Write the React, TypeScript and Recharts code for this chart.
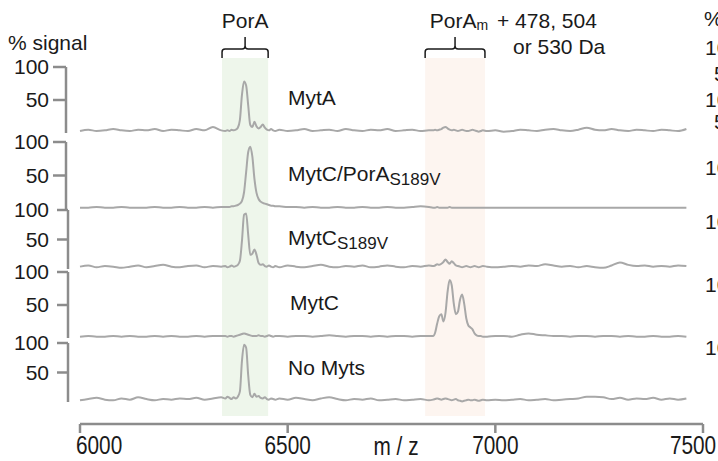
import { LineChart, Line, XAxis, YAxis, ReferenceArea } from 'recharts';

const W = 718;
const H = 461;
const FONT = '"Liberation Sans", Arial, Helvetica, sans-serif';
const INK = '#1a1a1a';
const AXIS_GRAY = '#8c8c8c';
const TRACE_GRAY = '#a8a8a8';

// m/z sampling shared by the five spectra (finer around the PorA / PorAm windows)
const mzGrid = [
  6000, 6020, 6040, 6060, 6080, 6100, 6120, 6140, 6160, 6180, 6200, 6220, 6240, 6260, 6280, 6300, 6320, 6340,
  6350, 6355, 6360, 6365, 6370, 6375, 6380, 6385, 6390, 6395, 6400, 6405, 6410, 6415, 6420, 6425, 6430, 6435, 6440, 6445, 6450, 6455, 6460, 6465, 6470,
  6480, 6500, 6520, 6540, 6560, 6580, 6600, 6620, 6640, 6660, 6680, 6700, 6720, 6740, 6760, 6780, 6800, 6820, 6840,
  6850, 6855, 6860, 6865, 6870, 6875, 6880, 6885, 6890, 6895, 6900, 6905, 6910, 6915, 6920, 6925, 6930, 6935, 6940, 6945, 6950, 6955, 6960, 6965, 6970,
  6980, 7000, 7020, 7040, 7060, 7080, 7100, 7120, 7140, 7160, 7180, 7200, 7220, 7240, 7260, 7280, 7300, 7320, 7340, 7360, 7380, 7400, 7420, 7440, 7460,
];

// % signal, one value per mzGrid point
const mytASignal = [
  3, 5, 3, 4, 6, 4, 3, 5, 4, 6, 3, 5, 4, 3, 6, 4, 9, 4,
  3, 4, 3, 5, 4, 5, 8, 20, 58, 78, 72, 42, 12, 9, 17, 10, 7, 9, 13, 8, 5, 4, 6, 4, 3,
  5, 3, 4, 6, 3, 4, 5, 3, 6, 4, 3, 5, 4, 6, 3, 4, 5, 3, 4,
  4, 5, 4, 5, 6, 8, 9, 7, 5, 4, 5, 4, 3, 4, 5, 4, 3, 3, 4, 5, 4, 3, 2, 3, 4,
  3, 4, 2, 3, 5, 4, 3, 5, 6, 4, 3, 5, 8, 5, 4, 6, 4, 3, 5, 4, 3, 5, 4, 3, 6,
];

const mytCPorASignal = [
  2, 2, 3, 2, 2, 3, 2, 2, 2, 3, 2, 2, 3, 2, 2, 3, 2, 3,
  3, 3, 3, 4, 4, 5, 6, 8, 12, 25, 55, 85, 93, 78, 45, 24, 15, 11, 9, 8, 7, 6, 5, 5, 4,
  4, 3, 3, 2, 3, 2, 2, 3, 2, 2, 3, 2, 2, 3, 2, 2, 3, 4, 3,
  2, 2, 3, 2, 2, 2, 2, 2, 3, 2, 2, 2, 2, 2, 2, 2, 2, 2, 2, 2, 2, 2, 2, 2, 2,
  2, 2, 2, 2, 2, 2, 2, 2, 2, 2, 2, 2, 2, 2, 2, 2, 2, 2, 2, 2, 2, 2, 2, 2, 2,
];

const mytCS189VSignal = [
  4, 6, 3, 5, 4, 2, 4, 6, 3, 5, 7, 4, 3, 5, 6, 3, 5, 4,
  5, 3, 4, 6, 4, 5, 7, 14, 48, 92, 94, 58, 24, 26, 33, 24, 10, 7, 8, 5, 4, 6, 4, 3, 5,
  3, 6, 4, 3, 5, 7, 4, 3, 5, 4, 6, 3, 4, 6, 4, 3, 5, 4, 6,
  5, 6, 8, 7, 9, 12, 16, 12, 9, 13, 10, 6, 5, 4, 3, 4, 5, 4, 3, 4, 5, 4, 3, 4, 5,
  4, 3, 4, 5, 4, 6, 5, 8, 6, 4, 5, 3, 5, 3, 2, 6, 11, 7, 5, 6, 4, 5, 4, 6, 5,
];

const mytCSignal = [
  2, 3, 2, 2, 3, 2, 3, 2, 2, 3, 2, 3, 2, 2, 3, 2, 3, 3,
  3, 2, 3, 3, 2, 3, 4, 5, 6, 7, 6, 5, 4, 3, 3, 3, 4, 3, 3, 2, 3, 4, 3, 2, 3,
  3, 2, 3, 3, 2, 3, 4, 3, 2, 3, 3, 2, 3, 2, 3, 3, 2, 3, 3,
  3, 8, 22, 33, 36, 25, 38, 70, 88, 80, 52, 36, 40, 58, 66, 52, 30, 19, 16, 13, 7, 4, 3, 3, 2,
  2, 3, 3, 2, 5, 7, 5, 4, 3, 3, 2, 3, 3, 2, 3, 3, 2, 3, 2, 2, 3, 2, 2, 3, 2,
];

const noMytsSignal = [
  3, 5, 7, 4, 3, 6, 4, 8, 5, 3, 5, 4, 6, 5, 7, 4, 6, 8,
  6, 9, 7, 5, 8, 6, 9, 18, 70, 97, 92, 45, 12, 8, 14, 9, 10, 7, 6, 8, 5, 4, 6, 5, 4,
  6, 4, 7, 5, 3, 6, 8, 5, 3, 5, 4, 6, 3, 4, 5, 3, 4, 5, 3,
  4, 5, 6, 5, 4, 5, 6, 5, 4, 3, 4, 5, 3, 2, 1, 2, 3, 4, 3, 3, 4, 3, 2, 3, 4,
  3, 4, 3, 4, 5, 3, 4, 5, 3, 4, 5, 6, 9, 9, 8, 5, 7, 4, 6, 5, 7, 4, 6, 4, 6,
];

const panelSignals = [mytASignal, mytCPorASignal, mytCS189VSignal, mytCSignal, noMytsSignal];
const panelNames = ['MytA', 'MytC/PorA', 'MytC', 'MytC', 'No Myts'];
const panelSubs = ['', 'S189V', 'S189V', '', ''];

const bandStart = [6342, 6831];
const bandEnd = [6453, 6975];
const xTicks = [6000, 6500, 7000, 7500];
const yTicks = [50, 100];

// pixel layout of each stacked panel (y of 100 %, y of 0 %, axis x)
const panelLayout = [
  { top: 67, bottom: 133, axisX: 66, tick: 13 },
  { top: 142, bottom: 209, axisX: 66, tick: 13 },
  { top: 210, bottom: 269, axisX: 68, tick: 11 },
  { top: 272, bottom: 338, axisX: 68, tick: 11 },
  { top: 343, bottom: 402, axisX: 68, tick: 11 },
];
const labelY = [97, 173, 237, 302, 367];
const PLOT_LEFT = 80;
const PLOT_RIGHT = 15;

const gridData = mzGrid.map((mz) => ({ mz }));

function SpectrumPanel({ signal, layout }: { signal: number[]; layout: typeof panelLayout[0] }) {
  const data = mzGrid.map((mz, i) => ({ mz, signal: signal[i] }));
  return (
    <div style={{ position: 'absolute', left: 0, top: 0 }}>
      <LineChart
        width={W}
        height={H}
        data={data}
        margin={{ top: layout.top, bottom: H - layout.bottom, left: 0, right: PLOT_RIGHT }}
      >
        <XAxis
          dataKey="mz"
          type="number"
          domain={[6000, 7500]}
          hide
          padding={{ left: PLOT_LEFT - layout.axisX, right: 0 }}
        />
        <YAxis
          domain={[0, 100]}
          ticks={yTicks}
          interval={0}
          width={layout.axisX}
          tickSize={layout.tick}
          tickMargin={layout.axisX - layout.tick - 49}
          axisLine={{ stroke: AXIS_GRAY, strokeWidth: 2.5 }}
          tickLine={{ stroke: AXIS_GRAY, strokeWidth: 2.5 }}
          tick={{ fill: INK, fontSize: 21, fontFamily: FONT }}
        />
        <Line
          dataKey="signal"
          type="monotone"
          stroke={TRACE_GRAY}
          strokeWidth={2}
          dot={false}
          isAnimationActive={false}
        />
      </LineChart>
    </div>
  );
}

function BandShape(props: any) {
  const { x, y, width, height, index } = props;
  const cx = x + width / 2;
  const bar = y + 12;
  const end = y + 21;
  const r = x + width;
  const d =
    `M${x},${end} L${x},${bar + 3} Q${x},${bar} ${x + 3},${bar} L${cx - 3},${bar} Q${cx},${bar} ${cx},${bar - 3} L${cx},${y} ` +
    `M${cx},${bar - 3} Q${cx},${bar} ${cx + 3},${bar} L${r - 3},${bar} Q${r},${bar} ${r},${bar + 3} L${r},${end}`;
  return (
    <g>
      <rect x={x} y={end} width={width} height={height - 21} fill={index === 0 ? '#eef6eb' : '#fdf5f0'} />
      <path d={d} fill="none" stroke={INK} strokeWidth={1.5} />
      <text
        x={cx + (index === 0 ? 0 : 4)}
        y={y - 17}
        textAnchor="middle"
        dominantBaseline="central"
        fontSize={21}
        fontFamily={FONT}
        fill={INK}
      >
        PorA
        {index === 1 && (
          <tspan fontSize={14} dy={5}>
            m
          </tspan>
        )}
      </text>
    </g>
  );
}

function MzTick(props: any) {
  const { x, y, payload, index } = props;
  const first = index === 0;
  const last = index === xTicks.length - 1;
  const tx = first ? x - 4 : last ? x - 10 : x;
  return (
    <text
      transform={`translate(${tx},${y}) scale(0.8,1)`}
      textAnchor={first ? 'start' : 'middle'}
      dy="0.71em"
      fontSize={26}
      fontFamily={FONT}
      fill={INK}
    >
      {payload.value}
    </text>
  );
}

export default function App() {
  const rightLabels = [
    { t: '%', x: 704, y: 18 },
    { t: '100', x: 705, y: 47 },
    { t: '50', x: 714, y: 73 },
    { t: '100', x: 705, y: 99 },
    { t: '50', x: 714, y: 121 },
    { t: '100', x: 705, y: 167 },
    { t: '100', x: 705, y: 221 },
    { t: '100', x: 705, y: 284 },
    { t: '100', x: 705, y: 347 },
  ];

  return (
    <div style={{ position: 'absolute', left: 0, top: 0, width: W, height: H, overflow: 'hidden', background: '#fff' }}>
      {/* shaded m/z windows with brackets */}
      <div style={{ position: 'absolute', left: 0, top: 0 }}>
        <LineChart width={W} height={H} data={gridData} margin={{ top: 37, bottom: H - 416, left: PLOT_LEFT, right: PLOT_RIGHT }}>
          <XAxis type="number" dataKey="mz" domain={[6000, 7500]} allowDataOverflow hide />
          <YAxis type="number" domain={[0, 1]} allowDataOverflow hide />
          {bandStart.map((s, i) => (
            <ReferenceArea
              key={i}
              x1={s}
              x2={bandEnd[i]}
              y1={0}
              y2={1}
              ifOverflow="visible"
              shape={(p: any) => <BandShape {...p} index={i} />}
            />
          ))}
        </LineChart>
      </div>

      {panelSignals.map((sig, i) => (
        <SpectrumPanel key={i} signal={sig} layout={panelLayout[i]} />
      ))}

      {/* shared m/z axis */}
      <div style={{ position: 'absolute', left: 0, top: 0 }}>
        <LineChart width={W} height={H} data={gridData} margin={{ top: 0, bottom: 0, left: PLOT_LEFT, right: PLOT_RIGHT }}>
          <XAxis
            type="number"
            dataKey="mz"
            domain={[6000, 7500]}
            allowDataOverflow
            ticks={xTicks}
            interval={0}
            height={H - 424}
            tickSize={9}
            tickMargin={3}
            axisLine={{ stroke: AXIS_GRAY, strokeWidth: 2.5 }}
            tickLine={{ stroke: AXIS_GRAY, strokeWidth: 2.5 }}
            tick={<MzTick />}
          />
          <YAxis type="number" domain={[0, 1]} allowDataOverflow hide />
        </LineChart>
      </div>

      <svg width={W} height={H} style={{ position: 'absolute', left: 0, top: 0 }} fontFamily={FONT} fill={INK}>
        <text x={8} y={42} fontSize={21} dominantBaseline="central">% signal</text>
        <text x={497} y={20} fontSize={21} dominantBaseline="central">+ 478, 504</text>
        <text x={513} y={46} fontSize={21} dominantBaseline="central">or 530 Da</text>
        {panelNames.map((name, i) => (
          <text key={i} x={i === 3 ? 290 : 288} y={labelY[i]} fontSize={21} dominantBaseline="central">
            {name}
            {panelSubs[i] && (
              <tspan fontSize={17} dy={6}>
                {panelSubs[i]}
              </tspan>
            )}
          </text>
        ))}
        {rightLabels.map((l, i) => (
          <text key={i} x={l.x} y={l.y} fontSize={21} dominantBaseline="central">
            {l.t}
          </text>
        ))}
        <text transform="translate(396,455) scale(0.8,1)" textAnchor="middle" fontSize={26}>
          m / z
        </text>
      </svg>
    </div>
  );
}
